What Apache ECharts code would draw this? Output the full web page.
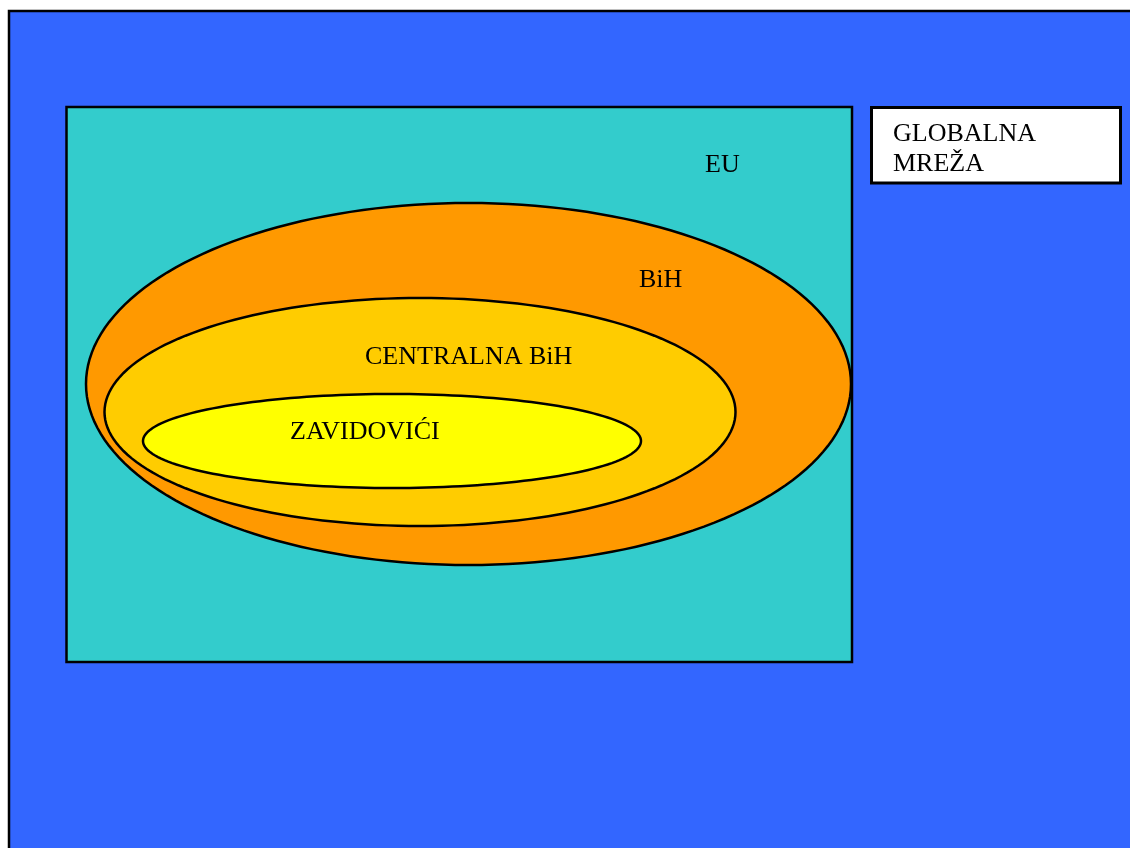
<!DOCTYPE html>
<html>
<head>
<meta charset="utf-8">
<title>GLOBALNA MREŽA</title>
<script src="https://cdn.jsdelivr.net/npm/echarts@6/dist/echarts.min.js"></script>
<style>
  html, body { margin: 0; padding: 0; background: #fff; }
  #chart { width: 1130px; height: 848px; }
</style>
</head>
<body>
<div id="chart"></div>
<script>
// regions of the diagram, drawn from outside to inside
// boxes: [x0, y0, x1, y1]
const boxNames = ['GLOBALNA MREŽA', 'EU', 'legenda']
const boxes = [
  [9, 11, 1140, 860],
  [66.5, 107, 852, 662],
  [871.5, 107.5, 1120.5, 183]
]
const boxColors = ['#3366ff', '#33cccc', '#ffffff']
const boxBorders = [2.5, 2.5, 3]

// ellipses: [cx, cy, rx, ry]
const ellipseNames = ['BiH', 'CENTRALNA BiH', 'ZAVIDOVIĆI']
const ellipses = [
  [468.5, 384, 382.5, 181],
  [420, 412, 315.5, 114],
  [392, 441, 249, 47]
]
const ellipseColors = ['#ff9900', '#ffcc00', '#ffff00']

// text labels: [x (left), y (middle), text]
const labels = [
  [705, 165, 'EU'],
  [639, 280, 'BiH'],
  [365, 357, 'CENTRALNA BiH'],
  [290, 432, 'ZAVIDOVIĆI'],
  [893, 134, 'GLOBALNA'],
  [893, 164, 'MREŽA']
]

const chart = echarts.init(document.getElementById('chart'))

const option = {
  animation: false,
  grid: { left: 0, right: 0, top: 0, bottom: 0 },
  xAxis: { type: 'value', min: 0, max: 1130, show: false },
  yAxis: { type: 'value', min: 0, max: 848, inverse: true, show: false },
  series: [
    {
      type: 'custom',
      name: 'okviri',
      data: boxes,
      clip: false,
      renderItem(params, api) {
        const i = params.dataIndex
        const p0 = api.coord([api.value(0), api.value(1)])
        const p1 = api.coord([api.value(2), api.value(3)])
        return {
          type: 'rect',
          shape: { x: p0[0], y: p0[1], width: p1[0] - p0[0], height: p1[1] - p0[1] },
          style: { fill: boxColors[i], stroke: '#000', lineWidth: boxBorders[i] }
        }
      }
    },
    {
      type: 'custom',
      name: 'elipse',
      data: ellipses,
      renderItem(params, api) {
        const i = params.dataIndex
        const cx = api.value(0), cy = api.value(1)
        const rx = api.value(2), ry = api.value(3)
        const pts = []
        for (let k = 0; k < 180; k++) {
          const a = (k / 180) * Math.PI * 2
          pts.push(api.coord([cx + rx * Math.cos(a), cy + ry * Math.sin(a)]))
        }
        return {
          type: 'polygon',
          shape: { points: pts },
          style: { fill: ellipseColors[i], stroke: '#000', lineWidth: 2.5 }
        }
      }
    },
    {
      type: 'custom',
      name: 'natpisi',
      data: labels,
      renderItem(params, api) {
        const p = api.coord([api.value(0), api.value(1)])
        return {
          type: 'text',
          x: p[0],
          y: p[1],
          style: {
            text: labels[params.dataIndex][2],
            fill: '#000',
            font: '26px "Liberation Serif", "Times New Roman", serif',
            align: 'left',
            verticalAlign: 'middle'
          }
        }
      }
    }
  ]
}

chart.setOption(option)
</script>
</body>
</html>
